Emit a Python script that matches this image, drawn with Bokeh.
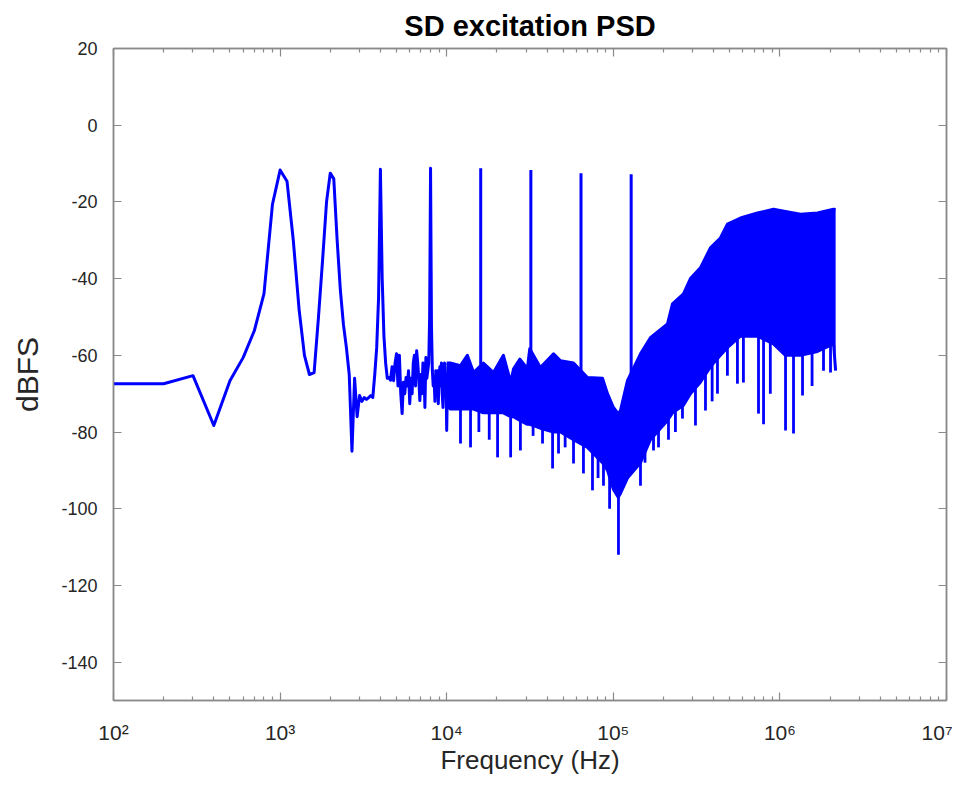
import numpy as np
from bokeh.plotting import figure
from bokeh.models import LogAxis, LinearAxis, FixedTicker, Range1d
from bokeh.embed import file_html
from bokeh.resources import INLINE

# ---------------- data ----------------
# resolved low-frequency part of the PSD (Hz, dBFS)
low_freq = [100, 200, 300, 400, 500, 600, 700, 800, 900, 1000, 1100, 1200, 1300, 1400,
            1500, 1600, 1700, 1800, 1900, 2000, 2100, 2200, 2300, 2400, 2500, 2600, 2700,
            2800, 2900, 3000, 3100, 3200, 3300, 3400, 3500, 3600, 3700, 3800, 3900, 4000,
            4100, 4200, 4300, 4400, 4500, 4600, 4700, 4800, 4900, 5000, 5100, 5200, 5300,
            5400, 5500, 5600, 5700, 5800, 5900, 6000, 6100, 6200, 6300, 6400, 6500, 6600,
            6700, 6800, 6900, 7000, 7100, 7200, 7300, 7400, 7500, 7600, 7700, 7800, 7900,
            8000, 8100, 8200, 8300, 8400, 8500, 8600, 8700, 8800, 8900, 9000, 9100, 9200,
            9300, 9400, 9500, 9600, 9700, 9800, 9900, 10000, 10100, 10200]
low_db = [-67.4, -67.4, -65.3, -78.3, -66.6, -60.6, -53.6, -44.0, -20.6, -11.7, -14.6, -30.0,
          -48.0, -60.0, -65.0, -64.5, -50.0, -35.0, -20.0, -12.5, -14.0, -30.0, -43.0, -52.0,
          -58.0, -65.0, -85.0, -66.0, -76.0, -70.5, -72.0, -71.0, -71.5, -71.0, -70.5, -71.0,
          -65.0, -58.0, -45.0, -11.5, -40.0, -55.0, -62.0, -66.0, -65.8, -66.5, -63.0, -66.6,
          -62.0, -59.6, -68.0, -60.0, -70.0, -75.2, -67.0, -70.0, -65.8, -68.0, -64.0, -72.6,
          -66.0, -70.0, -62.0, -60.0, -68.0, -58.8, -62.0, -66.0, -71.8, -65.0, -70.0, -62.0,
          -64.0, -73.6, -60.6, -66.0, -64.0, -62.0, -50.0, -11.2, -52.0, -64.0, -68.0, -66.0,
          -72.0, -64.0, -70.0, -64.0, -72.6, -66.0, -63.0, -68.0, -62.0, -70.0, -73.6, -66.0,
          -62.0, -70.0, -65.0, -79.6, -68.0, -62.0]

# dense high-frequency part: upper / lower envelope of the noise (Hz, dBFS)
band_freq = [10000, 10500, 12100, 13300, 14500, 16600, 19100, 21900, 24200, 25200, 27500,
             30500, 31500, 36500, 43800, 48200, 57700, 70000, 86100, 92300, 100200, 107000,
             110400, 121600, 145600, 167000, 211500, 226600, 263800, 290300, 333300,
             382700, 439400, 484000, 579800, 734000, 915000, 1080000, 1330000, 1680000,
             2100000, 2160000]
band_upper = [-62.0, -62.0, -62.7, -60.0, -64.5, -62.0, -64.5, -60.0, -67.0, -63.5, -61.0,
              -63.5, -58.3, -63.2, -59.6, -61.4, -62.0, -65.8, -66.0, -70.0, -73.6, -75.2,
              -74.4, -66.6, -59.6, -55.4, -51.8, -46.6, -44.0, -40.0, -37.2, -32.0, -29.4,
              -25.8, -24.2, -22.9, -21.9, -22.5, -23.2, -22.9, -21.9, -22.0]
band_lower = [-73.0, -74.0, -74.0, -74.0, -74.0, -75.0, -75.0, -75.0, -76.0, -76.0, -77.0,
              -78.0, -78.0, -79.0, -80.0, -80.0, -82.0, -84.0, -88.0, -90.0, -95.0, -97.0,
              -96.0, -92.0, -88.0, -82.0, -77.0, -75.0, -73.0, -70.0, -67.0, -63.0, -60.0,
              -58.0, -55.0, -55.0, -57.0, -60.0, -60.0, -59.0, -57.0, -64.0]

# isolated downward spikes below the dense noise (Hz, dBFS)
spike_freq = [12100, 13900, 15600, 18000, 20200, 24200, 27700, 33000, 37600, 43200, 46900,
              51400, 57700, 66200, 75000, 81000, 87300, 95000, 107400, 121600, 145600,
              155000, 174300, 186800, 214400, 236000, 260100, 311300, 357500, 392000,
              421900, 484100, 556000, 604000, 744000, 797700, 876000, 1081000, 1207000,
              1367000, 1560000, 1827000, 2013000]
spike_db = [-83.0, -84.0, -80.0, -82.0, -86.6, -86.6, -84.8, -81.0, -83.0, -89.5, -85.6,
            -84.0, -88.2, -90.8, -95.2, -92.0, -94.0, -100.0, -112.0, -90.8, -94.0, -88.0,
            -84.8, -84.0, -82.0, -80.0, -76.5, -78.3, -74.4, -72.0, -70.0, -65.3, -67.4,
            -67.1, -75.2, -78.0, -70.0, -79.6, -80.4, -70.5, -68.0, -64.0, -64.5]

# excitation tones inside the dense region (Hz, dBFS)
tone_freq = [16000, 32000, 64000, 128000]
tone_db = [-11.2, -11.7, -12.5, -12.8]

x_ticks = [1e2, 1e3, 1e4, 1e5, 1e6, 1e7]
x_tick_labels = ["10\u00b2", "10\u00b3", "10\u2074", "10\u2075", "10\u2076", "10\u2077"]
y_ticks = [-140, -120, -100, -80, -60, -40, -20, 0, 20]
y_tick_labels = ["-140", "-120", "-100", "-80", "-60", "-40", "-20", "0", "20"]

BLUE = "#0000ff"
AXC = "#8a8a8a"
TXT = "#262626"
FONT = "Liberation Sans"

p = figure(width=952, height=779, x_axis_type="log",
           x_range=Range1d(1e2, 1e7), y_range=Range1d(-150, 20),
           output_backend="svg", toolbar_location=None,
           min_border_left=113, min_border_right=6, min_border_top=47,
           min_border_bottom=79)
p.grid.visible = False
p.outline_line_color = AXC
p.outline_line_width = 1.5
p.background_fill_color = "white"
p.border_fill_color = "white"

minor = [m * d for d in x_ticks[:-1] for m in range(2, 10)]


def style(ax, show):
    ax.axis_line_color = AXC
    ax.axis_line_width = 1.5
    ax.major_tick_in = 8
    ax.major_tick_out = 0
    ax.minor_tick_in = 4
    ax.minor_tick_out = 0
    ax.major_tick_line_color = AXC
    ax.minor_tick_line_color = AXC
    ax.major_tick_line_width = 1.2
    ax.minor_tick_line_width = 1.2
    ax.major_label_text_font = FONT
    ax.major_label_text_color = TXT
    ax.axis_label_text_font = FONT
    ax.axis_label_text_color = TXT
    ax.axis_label_text_font_style = "normal"
    if show:
        ax.major_label_text_font_size = "18px"
        ax.axis_label_text_font_size = "28px"
    else:
        ax.major_label_text_font_size = "1px"
        ax.major_label_text_alpha = 0
        ax.major_label_standoff = 0


xax = p.xaxis[0]
xax.ticker = FixedTicker(ticks=x_ticks, minor_ticks=minor)
xax.major_label_overrides = {float(t): s for t, s in zip(x_ticks, x_tick_labels)}
xax.axis_label = "Frequency (Hz)"
style(xax, True)
xax.major_label_text_font_size = "21px"
xax.major_label_standoff = 20
xax.axis_label_text_font_size = "26px"
xax.axis_label_standoff = -2

yax = p.yaxis[0]
yax.ticker = FixedTicker(ticks=y_ticks)
yax.major_label_overrides = {float(t): s for t, s in zip(y_ticks, y_tick_labels)}
yax.axis_label = "dBFS"
style(yax, True)
yax.axis_label_text_font_size = "30px"
yax.minor_tick_line_color = None
yax.major_label_standoff = 16
yax.axis_label_standoff = 14

top = LogAxis(ticker=FixedTicker(ticks=x_ticks, minor_ticks=minor))
style(top, False)
p.add_layout(top, "above")
right = LinearAxis(ticker=FixedTicker(ticks=y_ticks))
style(right, False)
right.minor_tick_line_color = None
p.add_layout(right, "right")

p.title.text = "SD excitation PSD"
p.title.align = "center"
p.title.text_font = FONT
p.title.text_font_style = "bold"
p.title.text_font_size = "29px"
p.title.text_color = "black"
p.title.standoff = 14

# dense noise band
p.varea(x=band_freq, y1=band_lower, y2=band_upper, fill_color=BLUE)
p.line(band_freq, band_upper, line_color=BLUE, line_width=3, line_join="round")
p.line(band_freq, band_lower, line_color=BLUE, line_width=3, line_join="round")

# downward spikes from the band's lower edge
lf = np.log10(band_freq)
spike_base = np.interp(np.log10(spike_freq), lf, band_lower) + 2
p.segment(x0=spike_freq, y0=spike_base, x1=spike_freq, y1=spike_db,
          line_color=BLUE, line_width=2.8)

# tones rising out of the band
tone_base = np.interp(np.log10(tone_freq), lf, band_upper) - 2
p.segment(x0=tone_freq, y0=tone_base, x1=tone_freq, y1=tone_db,
          line_color=BLUE, line_width=3)

# resolved low-frequency trace
p.line(low_freq, low_db, line_color=BLUE, line_width=3, line_join="round")

open("out.html", "w").write(file_html(p, INLINE))
